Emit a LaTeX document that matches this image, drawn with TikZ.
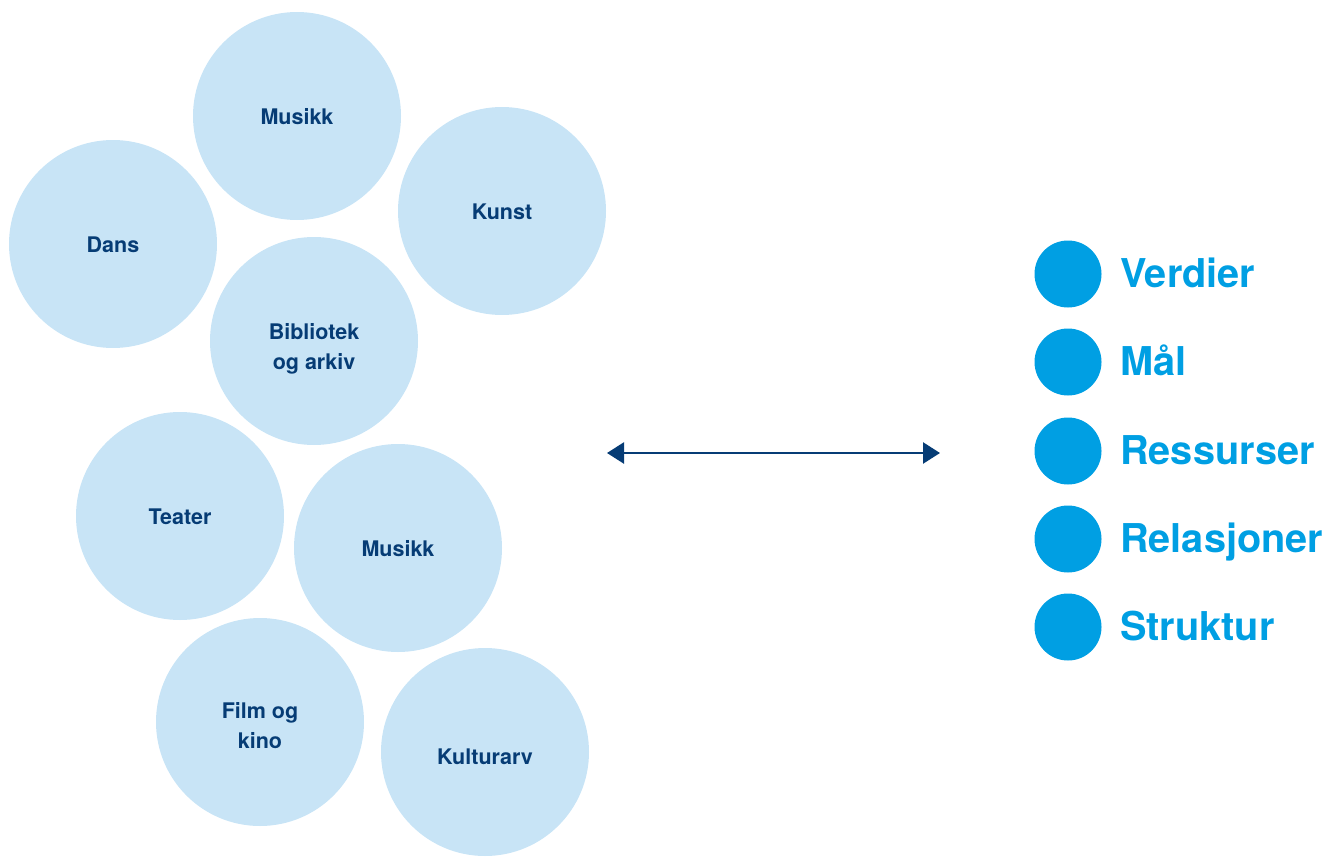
\documentclass[tikz,border=0pt]{standalone}
\usepackage{fontspec}
\setmainfont{TeX Gyre Heros}
\usetikzlibrary{arrows.meta}
\definecolor{bubble}{HTML}{C8E4F6}
\definecolor{navy}{HTML}{063C75}
\definecolor{dotblue}{HTML}{009FE3}
\tikzset{
  bubble/.style={circle, fill=bubble, minimum size=208pt, inner sep=0pt},
  btext/.style={align=center, text=navy, inner sep=0pt, font=\fontsize{21.5}{30}\selectfont\bfseries},
  dot/.style={circle, fill=dotblue, minimum size=67pt, inner sep=0pt},
  lbl/.style={anchor=base west, text=dotblue, font=\fontsize{39.7}{44}\selectfont\bfseries, inner sep=0pt},
  link/.style={navy, line width=2.5pt, {Triangle[length=17pt,width=21pt]}-{Triangle[length=17pt,width=21pt]}}
}
\begin{document}
\begin{tikzpicture}[x=1pt,y=-1pt]
\useasboundingbox (0,0) rectangle (1337,856);
\node[bubble] (musikk1) at (297,116) {};
\node[bubble] (dans) at (113,244) {};
\node[bubble] (kunst) at (502,211) {};
\node[bubble] (bibl) at (314,341) {};
\node[bubble] (teater) at (180,516) {};
\node[bubble] (musikk2) at (398,548) {};
\node[bubble] (film) at (260,722) {};
\node[bubble] (kulturarv) at (485,752) {};
\node[btext] (tmusikk1) at ([yshift=-1pt]musikk1.center) {Musikk};
\node[btext] (tdans) at ([yshift=-1pt]dans.center) {Dans};
\node[btext] (tkunst) at ([yshift=-1pt]kunst.center) {Kunst};
\node[btext] (tbibl) at ([yshift=-8pt]bibl.center) {Bibliotek\\og arkiv};
\node[btext] (tteater) at ([yshift=-1pt]teater.center) {Teater};
\node[btext] (tmusikk2) at ([yshift=-1pt]musikk2.center) {Musikk};
\node[btext] (tfilm) at ([yshift=-4pt]film.center) {Film og\\kino};
\node[btext] (tkulturarv) at ([yshift=-5pt]kulturarv.center) {Kulturarv};
\coordinate (aL) at (607,453);
\coordinate (aR) at (940,453);
\draw[link] (aL) -- (aR);
\foreach \i/\y/\t in {1/274/Verdier,2/362/Mål,3/451/Ressurser,4/539/Relasjoner,5/627/Struktur}{
  \node[dot] (d\i) at (1068,\y) {};
  \node[lbl] (t\i) at (1120,\y+13) {\t};
}
\end{tikzpicture}
\end{document}
